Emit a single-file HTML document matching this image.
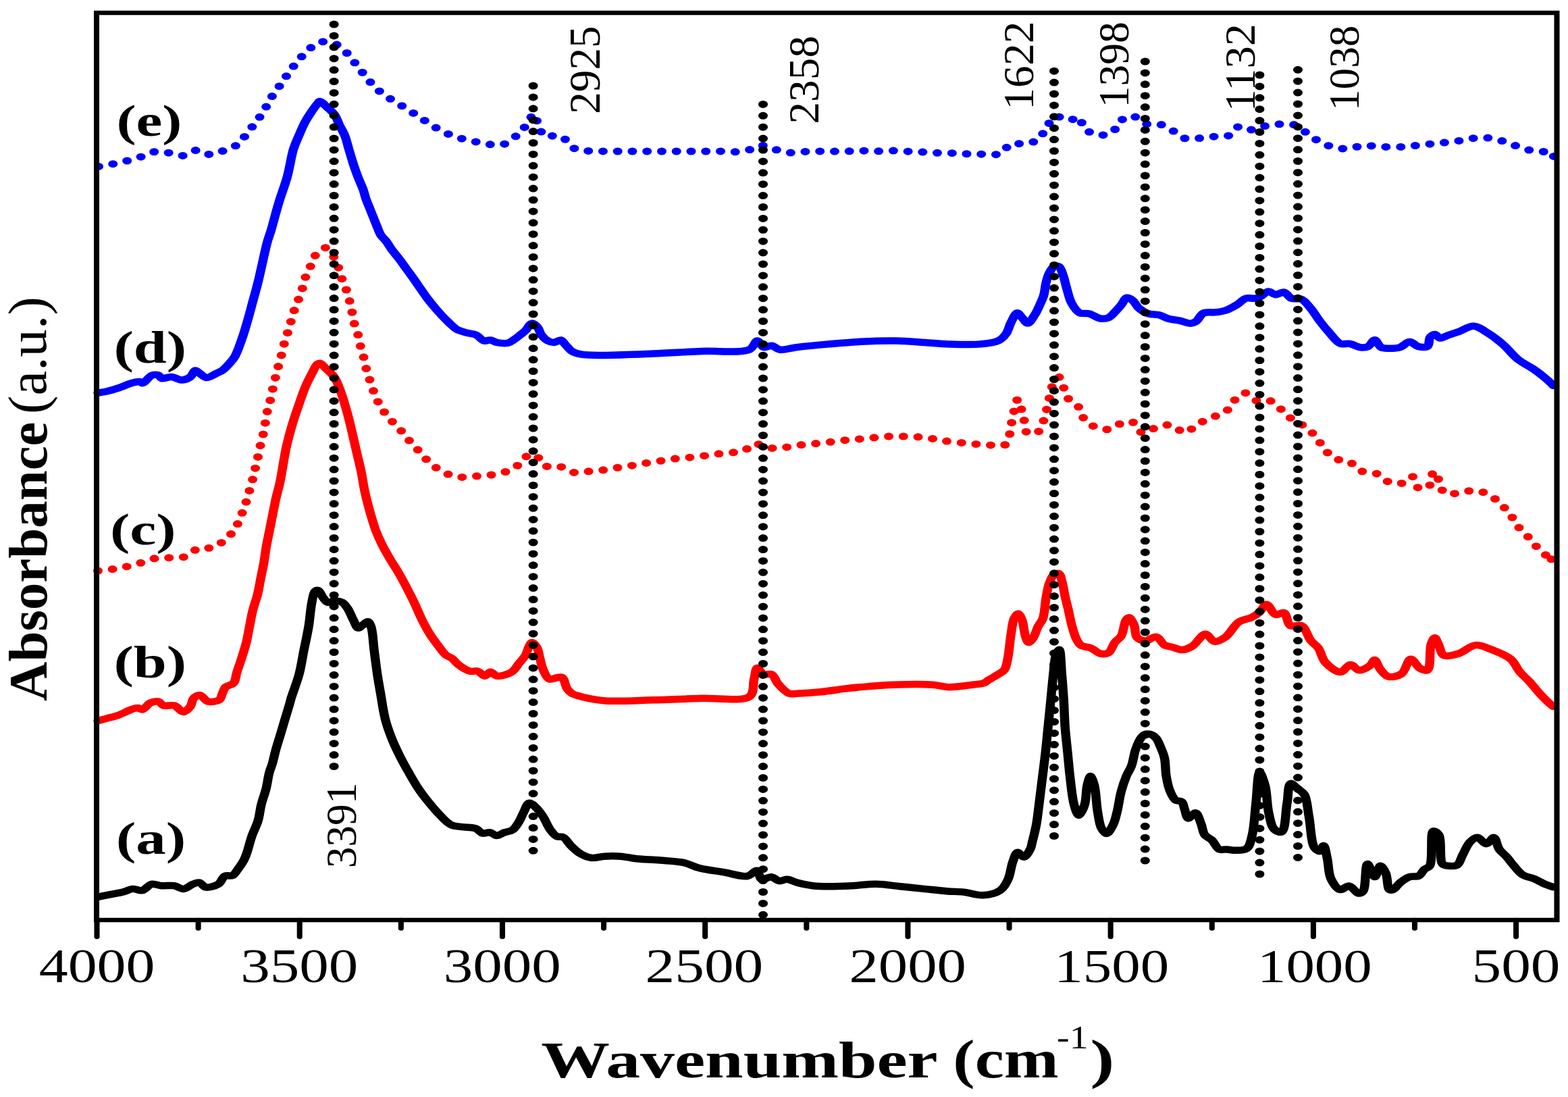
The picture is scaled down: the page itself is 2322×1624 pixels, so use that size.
<!DOCTYPE html><html><head><meta charset="utf-8"><title>FTIR spectra</title><style>html,body{margin:0;padding:0;background:#fff;}svg{display:block;}text{font-family:"Liberation Serif","Times New Roman",serif;fill:#000;}</style></head><body>
<svg width="2322" height="1624" viewBox="0 0 2322 1624">
<rect width="2322" height="1624" fill="#fff"/>
<g transform="scale(1.28,1)" fill="none" stroke-linejoin="round" stroke-linecap="round">
<path transform="translate(0,0.7)" d="M113.98,1326.90 C118.57,1325.73 123.07,1324.55 127.73,1323.40 C132.55,1322.21 137.93,1321.38 142.42,1319.90 C146.42,1318.58 149.70,1315.57 153.44,1315.20 C157.07,1314.84 161.04,1318.39 164.53,1317.50 C168.47,1316.49 171.61,1309.09 175.55,1308.10 C179.02,1307.23 182.60,1310.07 186.56,1310.50 C191.08,1310.99 196.79,1309.59 201.25,1310.50 C205.28,1311.32 208.67,1315.50 212.27,1315.20 C216.02,1314.88 219.88,1309.69 223.28,1308.10 C225.89,1306.88 228.32,1305.26 230.62,1305.80 C233.27,1306.42 234.84,1312.08 237.97,1312.80 C241.83,1313.69 248.94,1310.98 252.66,1308.10 C256.19,1305.36 256.90,1298.31 260.08,1296.30 C262.66,1294.66 266.79,1296.69 269.22,1295.20 C271.74,1293.65 272.88,1290.09 274.77,1286.90 C277.15,1282.87 280.22,1277.36 282.11,1272.80 C283.77,1268.79 284.53,1265.70 285.78,1261.10 C287.54,1254.65 289.13,1245.40 291.25,1237.60 C293.39,1229.70 296.75,1221.93 298.59,1214.00 C300.40,1206.22 300.74,1198.30 302.27,1190.50 C303.81,1182.64 306.27,1174.86 307.81,1167.00 C309.34,1159.20 310.07,1150.31 311.48,1143.50 C312.59,1138.17 314.01,1134.46 315.16,1129.40 C316.48,1123.60 317.41,1117.21 318.83,1110.60 C320.43,1103.17 322.54,1094.86 324.38,1087.00 C326.21,1079.16 328.01,1071.33 329.84,1063.50 C331.68,1055.67 334.18,1045.51 335.39,1040.00 C336.05,1037.02 336.06,1036.28 336.80,1033.10 C338.48,1025.84 343.55,1009.49 346.02,997.60 C348.46,985.83 349.71,973.93 351.56,962.10 C353.41,950.27 355.57,938.45 357.11,926.60 C358.64,914.79 359.21,900.66 360.78,891.10 C361.87,884.52 362.39,876.94 364.53,874.60 C365.55,873.48 367.04,872.93 368.20,873.40 C370.25,874.23 371.75,880.90 373.75,884.00 C375.49,886.69 377.03,890.39 379.30,891.10 C381.39,891.75 384.04,888.88 386.64,888.80 C389.55,888.71 393.38,889.32 395.94,891.10 C398.74,893.05 400.46,896.86 402.42,900.60 C404.86,905.25 406.68,912.17 408.83,917.20 C410.67,921.50 412.17,928.52 414.38,929.00 C416.02,929.36 418.08,925.88 419.92,924.30 C421.77,922.71 423.94,919.21 425.47,919.50 C427.07,919.80 428.18,923.19 429.22,926.60 C431.40,933.79 431.67,950.27 432.89,962.10 C434.11,973.93 435.25,986.43 436.56,997.60 C437.74,1007.60 438.93,1015.88 440.31,1026.00 C441.90,1037.64 443.31,1051.95 445.62,1063.50 C447.65,1073.63 450.16,1082.56 452.97,1091.70 C455.70,1100.58 458.84,1109.02 462.19,1117.60 C465.58,1126.28 469.45,1135.11 473.20,1143.50 C476.80,1151.56 480.37,1159.69 484.22,1167.00 C487.74,1173.70 491.47,1179.79 495.23,1185.80 C498.82,1191.53 502.48,1197.08 506.25,1202.30 C509.83,1207.25 514.03,1213.08 517.27,1216.40 C519.35,1218.54 520.59,1219.96 522.97,1221.10 C525.91,1222.51 529.93,1222.68 533.98,1223.40 C538.93,1224.27 546.36,1223.76 550.55,1225.80 C553.80,1227.38 555.05,1231.86 557.89,1232.80 C560.61,1233.70 564.31,1231.06 567.11,1231.70 C569.82,1232.32 571.83,1236.28 574.45,1236.40 C577.30,1236.53 580.50,1233.09 583.59,1231.70 C586.63,1230.33 590.20,1230.26 592.81,1228.10 C595.90,1225.54 598.05,1220.59 600.16,1216.40 C602.36,1212.02 603.65,1206.97 605.62,1202.30 C607.63,1197.57 609.47,1188.88 612.11,1188.20 C614.00,1187.71 616.39,1190.66 618.52,1192.90 C621.61,1196.17 624.88,1201.69 627.73,1207.00 C631.07,1213.20 633.63,1222.61 636.88,1228.10 C639.22,1232.07 641.40,1235.94 644.22,1237.60 C646.44,1238.90 649.26,1237.28 651.56,1238.70 C654.94,1240.78 657.42,1247.59 660.78,1251.70 C664.16,1255.83 667.66,1260.43 671.80,1263.40 C675.68,1266.19 680.15,1268.67 684.69,1269.30 C689.33,1269.94 694.19,1267.40 699.38,1267.00 C705.14,1266.55 711.64,1266.42 717.73,1267.00 C723.88,1267.58 729.33,1269.58 736.09,1270.50 C744.33,1271.63 754.49,1271.82 763.67,1272.80 C772.88,1273.78 783.14,1274.11 791.25,1276.40 C798.15,1278.35 802.74,1282.36 809.61,1284.60 C817.75,1287.26 828.00,1288.55 837.19,1290.50 C846.36,1292.45 857.81,1297.80 864.69,1296.30 C869.51,1295.25 873.03,1287.34 875.78,1288.10 C878.57,1288.87 878.26,1299.73 881.25,1301.10 C883.96,1302.34 888.85,1297.07 892.27,1297.50 C895.58,1297.92 898.30,1302.88 901.48,1303.40 C904.44,1303.88 907.46,1300.86 910.62,1301.10 C914.22,1301.37 917.61,1304.37 921.88,1305.80 C927.19,1307.58 934.07,1309.54 940.23,1310.50 C946.31,1311.45 951.85,1311.53 958.59,1311.60 C966.85,1311.68 976.99,1311.08 986.17,1310.50 C995.37,1309.92 1004.57,1307.92 1013.75,1308.10 C1022.95,1308.28 1032.14,1310.42 1041.33,1311.60 C1050.50,1312.78 1059.65,1314.02 1068.83,1315.20 C1078.01,1316.38 1088.13,1317.91 1096.41,1318.70 C1103.14,1319.35 1108.39,1319.02 1114.77,1319.90 C1121.83,1320.88 1129.74,1325.06 1136.88,1324.60 C1143.81,1324.15 1152.09,1321.65 1157.03,1317.50 C1161.67,1313.60 1163.88,1307.40 1166.25,1301.10 C1169.06,1293.63 1169.54,1282.46 1171.72,1275.20 C1173.37,1269.71 1174.79,1261.65 1177.27,1261.10 C1179.29,1260.65 1182.32,1268.39 1184.61,1268.10 C1187.28,1267.77 1190.31,1260.43 1191.95,1256.40 C1193.47,1252.68 1193.54,1249.48 1194.45,1244.90 C1195.79,1238.16 1197.74,1228.49 1198.98,1219.80 C1200.31,1210.53 1200.98,1201.23 1202.03,1190.90 C1203.24,1178.96 1204.53,1165.17 1205.78,1152.30 C1207.03,1139.43 1208.40,1126.58 1209.53,1113.70 C1210.66,1100.81 1211.56,1087.88 1212.58,1075.00 C1213.59,1062.15 1214.62,1049.34 1215.62,1036.50 C1216.63,1023.64 1217.53,1009.72 1218.59,997.90 C1219.50,987.84 1219.74,976.64 1221.48,970.00 C1222.51,966.07 1224.35,960.83 1225.39,961.00 C1227.41,961.33 1227.56,985.46 1228.44,997.90 C1229.34,1010.62 1230.08,1023.64 1230.70,1036.50 C1231.33,1049.34 1231.45,1062.16 1232.19,1075.00 C1232.93,1087.89 1234.15,1100.81 1235.16,1113.70 C1236.16,1126.58 1236.94,1139.45 1238.20,1152.30 C1239.47,1165.18 1240.48,1181.03 1242.73,1190.90 C1244.19,1197.29 1246.06,1206.22 1248.05,1206.30 C1250.06,1206.38 1253.16,1196.98 1254.77,1190.90 C1256.88,1182.88 1256.33,1169.69 1257.81,1161.90 C1258.84,1156.50 1260.19,1148.44 1261.56,1148.40 C1262.95,1148.36 1264.87,1156.16 1266.09,1161.90 C1268.12,1171.38 1268.26,1189.04 1269.84,1200.50 C1271.13,1209.79 1271.80,1219.84 1274.38,1225.60 C1275.97,1229.17 1278.38,1233.45 1280.39,1233.30 C1282.92,1233.11 1286.00,1224.86 1287.97,1219.80 C1290.19,1214.08 1291.11,1207.61 1292.50,1200.50 C1294.19,1191.86 1295.15,1180.66 1297.03,1171.60 C1298.73,1163.40 1300.82,1155.29 1303.05,1148.40 C1304.90,1142.68 1307.40,1138.74 1309.06,1133.00 C1311.06,1126.14 1311.68,1116.90 1313.59,1109.80 C1315.28,1103.55 1317.37,1096.60 1319.61,1092.50 C1321.03,1089.90 1322.14,1087.67 1324.14,1086.70 C1326.17,1085.71 1329.49,1085.80 1331.72,1086.70 C1334.06,1087.64 1336.07,1090.02 1337.73,1092.50 C1339.75,1095.52 1340.82,1099.74 1342.27,1104.00 C1344.01,1109.14 1346.03,1114.82 1347.19,1121.30 C1348.62,1129.26 1348.14,1139.91 1349.30,1148.40 C1350.34,1156.04 1351.48,1163.74 1353.52,1170.00 C1355.20,1175.17 1356.98,1180.97 1359.84,1183.60 C1361.92,1185.50 1365.51,1184.44 1367.27,1186.30 C1369.36,1188.53 1369.31,1193.30 1370.47,1197.10 C1371.77,1201.38 1372.39,1210.11 1374.69,1210.70 C1376.77,1211.24 1380.79,1202.09 1383.12,1202.60 C1385.97,1203.22 1387.75,1213.34 1389.53,1218.80 C1391.28,1224.17 1391.27,1230.86 1393.75,1235.10 C1395.82,1238.63 1399.55,1239.97 1402.19,1243.20 C1405.27,1246.97 1407.27,1254.81 1410.70,1256.70 C1413.20,1258.08 1416.18,1256.50 1419.14,1256.70 C1422.47,1256.92 1426.02,1258.24 1429.69,1258.10 C1433.75,1257.94 1439.32,1258.23 1442.42,1255.40 C1446.39,1251.78 1447.11,1243.34 1448.75,1235.10 C1451.17,1222.94 1451.55,1204.36 1452.97,1189.00 C1454.39,1173.66 1454.76,1143.29 1457.27,1143.00 C1458.91,1142.81 1461.95,1154.30 1463.59,1161.90 C1465.95,1172.79 1465.68,1190.84 1467.81,1202.60 C1469.48,1211.81 1470.47,1222.44 1474.14,1226.90 C1476.39,1229.64 1480.41,1232.19 1482.66,1231.00 C1487.42,1228.48 1487.11,1201.81 1488.98,1189.00 C1490.56,1178.22 1489.87,1160.36 1493.20,1159.20 C1495.29,1158.47 1499.04,1164.54 1501.72,1167.30 C1504.31,1169.97 1507.14,1171.47 1509.06,1175.50 C1512.39,1182.46 1512.60,1196.22 1514.38,1208.00 C1516.48,1221.99 1516.56,1246.40 1520.70,1254.00 C1522.47,1257.24 1525.36,1259.84 1527.11,1259.50 C1528.94,1259.14 1530.10,1251.14 1531.33,1251.30 C1533.11,1251.53 1534.26,1263.23 1535.55,1270.30 C1537.14,1279.09 1536.69,1291.94 1539.77,1300.10 C1542.23,1306.64 1546.31,1315.22 1550.39,1316.30 C1553.58,1317.14 1557.61,1310.35 1560.94,1310.90 C1564.71,1311.52 1568.48,1321.30 1571.56,1321.80 C1573.48,1322.11 1575.35,1321.16 1576.80,1319.10 C1580.62,1313.65 1579.06,1278.84 1582.11,1278.40 C1584.28,1278.09 1587.99,1297.46 1590.55,1297.40 C1592.90,1297.35 1594.63,1281.28 1596.95,1281.10 C1598.93,1280.95 1601.63,1287.47 1603.28,1292.00 C1605.59,1298.34 1604.68,1313.93 1607.50,1316.30 C1608.66,1317.28 1610.25,1317.01 1611.72,1316.30 C1614.36,1315.02 1617.02,1308.67 1620.23,1305.50 C1623.39,1302.38 1627.04,1298.95 1630.78,1297.40 C1634.14,1296.01 1638.60,1297.75 1641.41,1296.00 C1644.30,1294.20 1645.43,1289.10 1647.73,1286.50 C1649.70,1284.28 1652.40,1284.36 1654.06,1281.10 C1658.22,1272.98 1654.11,1231.31 1658.28,1229.60 C1659.97,1228.91 1663.02,1231.88 1664.69,1235.10 C1668.48,1242.40 1664.71,1272.67 1668.91,1278.40 C1670.57,1280.68 1672.80,1280.76 1675.23,1281.10 C1678.27,1281.53 1683.14,1281.85 1685.86,1279.80 C1689.21,1277.28 1689.90,1270.16 1692.19,1264.90 C1694.78,1258.94 1697.17,1250.38 1700.62,1245.90 C1703.13,1242.66 1706.19,1239.01 1709.14,1239.10 C1712.51,1239.20 1716.44,1248.77 1719.69,1248.60 C1722.77,1248.44 1725.86,1238.64 1728.20,1239.10 C1731.04,1239.65 1731.79,1251.71 1734.53,1256.70 C1736.88,1260.98 1740.24,1263.70 1742.97,1267.60 C1745.90,1271.79 1748.38,1276.67 1751.48,1281.10 C1754.71,1285.70 1757.87,1291.50 1762.03,1294.70 C1765.76,1297.57 1770.62,1297.91 1774.77,1300.10 C1779.09,1302.38 1783.44,1306.03 1787.42,1308.20 C1790.73,1310.00 1793.72,1311.07 1796.88,1312.50" stroke="#000" stroke-width="10.5"/>
<path transform="translate(0,0.7)" d="M113.28,1066.20 C116.90,1065.03 120.37,1063.99 124.14,1062.70 C128.28,1061.28 132.73,1060.01 137.11,1058.00 C141.96,1055.78 147.71,1051.52 151.88,1049.70 C154.70,1048.46 157.02,1047.19 159.30,1047.30 C161.30,1047.40 162.92,1050.11 164.84,1049.70 C167.74,1049.09 170.64,1041.63 174.06,1039.70 C176.92,1038.09 180.83,1036.99 183.36,1037.80 C185.70,1038.55 186.36,1042.69 188.91,1043.80 C192.10,1045.20 198.01,1042.31 201.80,1043.80 C205.73,1045.34 208.75,1053.25 211.95,1053.20 C214.90,1053.16 218.31,1048.28 220.31,1045.00 C222.37,1041.62 221.82,1035.92 223.98,1033.10 C225.80,1030.73 228.92,1028.11 231.41,1028.40 C234.45,1028.75 236.93,1036.62 240.62,1037.80 C244.32,1038.98 250.83,1037.77 253.59,1035.50 C256.02,1033.50 256.04,1029.17 257.27,1026.00 C258.49,1022.83 258.85,1019.04 260.94,1016.50 C263.11,1013.86 268.08,1013.61 270.23,1010.60 C272.81,1007.00 272.53,1000.81 273.91,995.30 C275.54,988.78 277.65,981.30 279.45,974.00 C281.35,966.32 283.46,958.23 285.00,950.30 C286.53,942.43 287.43,934.49 288.67,926.60 C289.91,918.72 290.88,910.85 292.42,903.00 C293.98,895.08 296.43,887.23 297.97,879.30 C299.50,871.43 300.42,863.49 301.64,855.60 C302.86,847.72 304.23,839.88 305.31,832.00 C306.39,824.12 307.04,816.18 308.12,808.30 C309.21,800.42 310.57,792.58 311.80,784.70 C313.02,776.81 314.23,768.90 315.47,761.00 C316.71,753.10 317.83,745.18 319.22,737.30 C320.61,729.41 322.24,723.14 323.83,713.70 C326.19,699.70 328.51,677.03 331.25,661.30 C333.52,648.28 335.99,636.94 338.59,625.80 C340.94,615.77 343.49,606.64 346.02,597.40 C348.44,588.53 350.78,579.33 353.44,571.40 C355.75,564.51 358.32,558.24 360.78,552.40 C362.93,547.29 365.04,540.24 367.27,538.20 C368.29,537.26 369.26,536.80 370.39,537.10 C372.44,537.65 374.96,542.28 377.42,545.30 C380.33,548.87 384.04,552.41 386.64,557.20 C389.82,563.06 391.76,570.69 394.06,578.50 C396.78,587.74 399.29,599.14 401.48,609.20 C403.59,618.83 405.22,627.93 407.03,637.60 C408.92,647.65 410.73,658.14 412.58,668.40 C414.43,678.64 416.55,689.24 418.12,699.10 C419.58,708.22 420.30,716.56 421.80,725.50 C423.35,734.81 425.24,744.26 427.34,753.90 C429.54,763.98 432.06,775.44 434.77,784.70 C437.05,792.51 439.36,798.96 442.11,806.00 C444.90,813.13 448.25,820.36 451.41,827.20 C454.42,833.74 457.49,839.33 460.62,846.20 C464.25,854.15 468.44,864.20 471.72,872.20 C474.50,878.98 476.59,884.27 479.14,891.10 C482.11,899.08 485.14,908.99 488.36,917.20 C491.31,924.71 494.32,931.93 497.58,938.50 C500.52,944.43 503.70,949.75 506.87,955.00 C509.88,959.96 512.90,965.91 516.09,969.20 C518.35,971.52 520.85,971.93 523.05,974.00 C525.66,976.46 527.35,980.45 530.39,983.40 C533.92,986.82 539.19,991.54 543.36,992.90 C546.52,993.93 549.75,991.86 552.58,992.90 C555.66,994.03 558.35,1000.04 560.94,1000.00 C563.25,999.96 565.16,994.17 567.42,994.10 C569.76,994.03 571.88,999.32 574.77,1000.00 C577.93,1000.75 582.63,998.92 585.86,997.60 C588.70,996.44 591.04,995.16 593.28,992.90 C596.10,990.06 598.17,985.04 600.62,981.10 C603.09,977.14 606.18,973.28 608.05,969.20 C609.80,965.37 610.31,960.78 611.72,957.40 C612.85,954.67 613.98,950.43 615.47,950.30 C617.05,950.16 619.57,954.33 621.02,957.40 C623.00,961.61 623.46,968.48 624.69,974.00 C625.91,979.51 626.47,985.32 628.36,990.50 C630.20,995.54 632.45,1003.23 635.78,1004.70 C638.35,1005.84 642.30,1002.65 645.00,1002.30 C647.06,1002.04 648.99,1001.18 650.55,1002.30 C653.31,1004.29 653.82,1014.67 656.09,1018.90 C657.72,1021.94 659.17,1024.10 661.64,1026.00 C664.50,1028.19 668.12,1029.24 672.73,1030.70 C679.82,1032.94 689.57,1035.65 700.47,1036.70 C715.72,1038.16 737.45,1036.10 755.94,1035.50 C774.43,1034.90 792.92,1033.90 811.41,1033.10 C829.90,1032.30 857.73,1038.43 866.87,1030.70 C873.20,1025.35 870.75,1012.38 872.42,1004.70 C873.76,998.57 873.94,988.69 876.09,988.20 C877.91,987.79 880.49,996.14 883.52,997.60 C886.17,998.88 890.18,996.05 892.73,997.60 C896.11,999.64 896.98,1007.26 900.16,1011.80 C903.64,1016.77 908.80,1024.09 913.12,1026.00 C916.04,1027.29 918.14,1026.16 921.88,1026.00 C928.53,1025.71 940.39,1024.78 949.61,1023.60 C958.88,1022.42 968.08,1020.27 977.34,1018.90 C986.57,1017.54 995.82,1016.38 1005.08,1015.40 C1014.31,1014.42 1022.39,1013.45 1032.81,1013.00 C1046.24,1012.42 1067.09,1011.89 1078.98,1013.00 C1086.58,1013.71 1090.69,1016.29 1097.50,1016.50 C1105.80,1016.75 1117.74,1014.17 1125.23,1013.00 C1130.38,1012.20 1134.93,1012.15 1138.20,1010.60 C1140.63,1009.45 1141.55,1007.65 1143.75,1005.90 C1146.78,1003.48 1151.60,1000.36 1154.84,997.60 C1157.63,995.23 1160.39,993.70 1162.19,990.50 C1164.51,986.38 1164.85,980.58 1165.94,974.00 C1167.51,964.44 1168.24,949.13 1169.61,938.50 C1170.73,929.79 1171.20,920.24 1173.28,914.80 C1174.52,911.57 1176.43,907.61 1177.89,907.70 C1179.52,907.80 1181.25,913.21 1182.50,917.20 C1184.39,923.20 1184.62,934.76 1186.25,940.80 C1187.31,944.74 1188.32,950.06 1189.92,950.30 C1191.43,950.52 1193.84,946.24 1195.47,943.20 C1197.74,938.97 1199.01,931.61 1201.02,926.60 C1202.75,922.28 1205.13,919.80 1206.56,914.80 C1208.77,907.08 1208.86,893.31 1210.23,884.00 C1211.38,876.23 1212.16,868.84 1213.98,862.70 C1215.46,857.74 1217.03,851.77 1219.53,849.70 C1221.12,848.39 1223.64,847.66 1225.08,848.50 C1227.21,849.74 1227.66,855.72 1228.75,860.40 C1230.26,866.89 1231.19,876.57 1232.50,884.00 C1233.68,890.69 1234.98,896.48 1236.17,903.00 C1237.43,909.89 1238.32,917.23 1239.84,924.30 C1241.38,931.43 1243.09,940.06 1245.39,945.60 C1247.01,949.50 1248.24,952.84 1250.94,955.00 C1253.73,957.24 1258.48,956.76 1262.03,958.60 C1265.90,960.61 1269.40,965.92 1273.12,966.90 C1276.18,967.70 1279.80,967.54 1282.34,965.70 C1285.79,963.21 1287.04,954.69 1289.77,950.30 C1292.06,946.61 1295.20,944.95 1297.19,940.80 C1300.01,934.91 1300.33,921.46 1302.73,917.20 C1303.84,915.24 1305.19,913.41 1306.41,913.60 C1308.27,913.90 1310.49,920.11 1311.95,924.30 C1313.80,929.60 1312.69,939.30 1315.62,943.20 C1317.78,946.06 1321.49,947.82 1324.84,947.90 C1328.76,948.00 1334.04,941.19 1337.73,942.10 C1341.63,943.05 1343.90,951.93 1347.42,954.40 C1350.09,956.27 1352.87,956.16 1355.94,957.20 C1359.55,958.42 1363.84,961.50 1367.73,961.30 C1371.71,961.10 1375.69,958.75 1379.53,955.80 C1384.66,951.86 1389.80,938.18 1394.45,938.00 C1398.23,937.85 1401.17,948.28 1405.16,948.90 C1409.05,949.51 1414.00,945.70 1418.05,942.10 C1423.51,937.24 1427.31,925.05 1433.05,920.20 C1437.56,916.38 1443.80,915.86 1447.97,913.30 C1451.37,911.21 1453.89,909.34 1456.56,906.50 C1459.70,903.16 1462.12,894.12 1465.16,894.10 C1468.52,894.08 1471.83,907.78 1475.86,909.20 C1478.82,910.25 1482.87,905.21 1485.47,906.50 C1489.20,908.36 1488.85,922.79 1492.97,925.60 C1496.23,927.82 1502.22,923.37 1505.78,925.60 C1510.70,928.68 1512.78,941.70 1516.48,947.60 C1519.27,952.05 1522.50,954.00 1525.08,958.50 C1528.44,964.37 1529.25,974.49 1533.67,980.50 C1537.93,986.29 1545.69,994.40 1550.78,994.20 C1555.14,994.03 1558.74,983.30 1562.50,983.20 C1565.84,983.11 1568.59,991.01 1572.19,991.40 C1576.04,991.81 1581.88,987.46 1585.00,984.60 C1587.58,982.24 1588.62,976.18 1590.39,976.30 C1592.57,976.45 1594.09,985.85 1596.80,990.00 C1599.45,994.07 1602.39,999.79 1606.41,1001.00 C1610.55,1002.25 1617.36,1000.25 1621.41,996.90 C1626.47,992.71 1628.19,975.41 1632.11,975.00 C1635.42,974.65 1639.01,986.06 1642.81,988.70 C1645.55,990.60 1649.25,992.81 1651.41,991.40 C1655.86,988.49 1653.34,961.50 1655.62,953.10 C1656.82,948.71 1658.49,943.50 1659.92,943.50 C1661.35,943.50 1662.69,949.45 1664.22,953.10 C1666.19,957.82 1666.67,967.23 1670.62,969.50 C1674.54,971.75 1682.08,968.95 1687.73,966.80 C1694.24,964.32 1700.41,955.16 1707.03,954.40 C1713.29,953.68 1719.91,958.15 1726.33,961.30 C1733.48,964.81 1742.31,969.23 1747.73,975.00 C1752.78,980.36 1754.63,988.47 1758.44,994.20 C1761.82,999.30 1765.51,1002.88 1769.14,1007.90 C1773.32,1013.67 1777.77,1021.23 1781.95,1027.00 C1785.59,1032.02 1789.83,1037.48 1792.66,1040.70 C1794.32,1042.60 1795.47,1043.57 1796.88,1045.00" stroke="#f00" stroke-width="10.5"/>
<path d="M113.28,845.00 C118.88,844.20 124.50,843.66 130.08,842.60 C135.70,841.53 141.37,840.18 146.88,838.60 C152.33,837.04 157.59,835.18 162.97,833.20 C168.50,831.16 173.92,827.76 179.61,826.50 C185.15,825.27 190.95,825.98 196.64,825.60 C202.36,825.22 208.44,826.30 213.83,824.20 C219.79,821.87 224.60,813.32 230.47,811.20 C235.59,809.35 241.69,812.62 246.56,810.70 C251.82,808.63 256.43,802.94 260.62,798.40 C264.81,793.87 268.88,788.83 271.72,783.50 C274.48,778.31 275.68,772.48 277.58,766.90 C279.49,761.28 281.57,755.59 283.12,749.90 C284.65,744.32 285.56,738.72 286.88,733.10 C288.21,727.42 289.87,721.71 291.09,716.00 C292.31,710.34 293.15,704.61 294.22,699.00 C295.26,693.48 296.45,688.19 297.42,682.60 C298.43,676.80 299.12,670.61 300.16,664.80 C301.16,659.18 302.50,653.82 303.52,648.30 C304.53,642.78 305.48,637.28 306.25,631.70 C307.02,626.08 307.21,620.37 308.12,614.70 C309.05,608.94 310.71,603.12 311.80,597.40 C312.86,591.82 313.61,586.42 314.61,580.80 C315.64,574.99 316.81,568.90 317.89,563.10 C318.94,557.48 319.87,552.01 321.02,546.50 C322.16,540.98 323.63,535.56 324.77,530.00 C325.92,524.36 326.71,518.53 327.89,512.90 C329.06,507.34 330.48,501.93 331.80,496.40 C333.13,490.80 334.57,485.15 335.86,479.50 C337.15,473.85 338.08,468.10 339.53,462.50 C340.97,456.93 342.90,451.56 344.53,446.00 C346.18,440.36 347.95,434.64 349.38,428.90 C350.79,423.17 351.45,417.25 353.05,411.60 C354.63,405.98 356.99,400.62 358.91,395.10 C360.82,389.58 361.55,383.27 364.53,378.50 C367.45,373.83 372.82,366.35 376.48,366.70 C380.35,367.07 384.40,376.67 387.03,382.10 C389.57,387.33 390.64,393.03 392.19,398.60 C393.75,404.22 394.74,410.02 396.33,415.70 C397.94,421.45 400.31,427.18 401.80,432.90 C403.23,438.44 404.13,443.96 405.16,449.50 C406.18,455.03 407.05,460.52 407.97,466.10 C408.90,471.78 409.47,477.65 410.70,483.30 C411.93,488.92 414.14,494.30 415.31,499.90 C416.48,505.50 416.65,511.29 417.73,516.90 C418.81,522.49 420.66,527.89 421.80,533.50 C422.95,539.18 423.36,545.14 424.61,550.80 C425.84,556.40 427.71,561.69 429.22,567.30 C430.78,573.11 431.96,579.32 433.83,585.10 C435.67,590.79 437.75,596.26 440.31,601.70 C442.96,607.30 445.98,612.77 449.53,618.20 C453.31,623.98 458.44,629.54 462.50,635.30 C466.45,640.91 469.76,646.71 473.59,652.30 C477.44,657.91 481.55,663.38 485.55,668.90 C489.54,674.41 492.99,680.39 497.58,685.40 C502.22,690.46 507.72,695.57 513.28,699.10 C518.40,702.35 523.82,705.20 529.45,706.20 C535.07,707.20 541.34,705.50 547.03,705.10 C552.41,704.73 557.45,704.67 562.73,703.90 C568.23,703.10 573.99,702.07 579.38,700.30 C584.80,698.51 590.59,696.84 595.16,693.20 C600.15,689.22 603.01,679.97 607.66,676.70 C611.20,674.20 615.77,671.88 619.14,673.10 C623.46,674.66 625.03,687.07 629.84,689.70 C634.19,692.07 640.76,688.30 645.94,689.70 C651.51,691.21 656.40,697.77 662.03,699.10 C667.39,700.36 673.29,698.47 678.83,698.00 C684.25,697.54 689.53,697.15 694.92,696.30 C700.44,695.43 705.98,693.90 711.56,692.80 C717.20,691.69 723.04,690.84 728.59,689.70 C733.95,688.60 738.98,687.21 744.30,686.10 C749.75,684.97 755.48,684.08 760.94,683.00 C766.25,681.95 771.34,680.56 776.64,679.70 C781.99,678.83 787.41,678.49 792.89,677.80 C798.50,677.09 804.29,676.37 809.92,675.50 C815.51,674.64 821.01,673.47 826.56,672.60 C832.10,671.73 837.66,671.08 843.20,670.30 C848.75,669.52 854.86,670.12 859.84,667.90 C864.94,665.62 868.70,657.23 873.36,656.60 C877.54,656.04 881.52,661.37 886.25,662.50 C891.46,663.75 897.78,663.69 903.44,663.20 C909.08,662.72 914.54,660.58 920.16,659.60 C925.79,658.61 931.51,658.00 937.19,657.30 C942.86,656.60 948.55,656.20 954.22,655.40 C959.91,654.60 965.63,653.31 971.25,652.50 C976.72,651.72 982.08,651.18 987.50,650.60 C992.91,650.02 998.25,649.68 1003.75,649.00 C1009.46,648.29 1015.40,646.91 1021.17,646.40 C1026.81,645.90 1032.35,645.90 1037.97,645.90 C1043.63,645.90 1049.33,646.08 1055.00,646.40 C1060.66,646.72 1066.39,646.89 1071.95,647.80 C1077.48,648.70 1082.32,650.61 1088.28,651.80 C1095.36,653.21 1104.57,654.44 1111.72,655.40 C1117.73,656.20 1122.76,656.72 1128.36,657.30 C1134.04,657.89 1139.86,658.64 1145.55,658.90 C1151.13,659.16 1158.40,661.56 1162.19,658.90 C1166.13,656.12 1166.89,647.67 1168.28,641.90 C1169.65,636.23 1169.70,630.30 1170.55,624.60 C1171.37,619.00 1172.13,613.54 1173.28,608.00 C1174.46,602.34 1176.10,591.01 1177.58,591.00 C1179.06,590.99 1180.89,602.34 1182.19,608.00 C1183.46,613.54 1184.19,619.02 1185.31,624.60 C1186.46,630.31 1185.78,639.89 1188.98,641.90 C1191.73,643.62 1198.52,641.55 1201.56,638.80 C1205.11,635.60 1205.90,627.84 1207.50,622.20 C1209.10,616.57 1210.04,610.73 1211.17,605.00 C1212.30,599.30 1213.22,593.59 1214.30,587.90 C1215.38,582.22 1215.63,575.98 1217.66,570.90 C1219.53,566.19 1223.45,558.02 1225.62,558.30 C1228.01,558.61 1229.10,569.75 1231.02,575.40 C1232.93,581.05 1234.05,587.40 1237.11,592.20 C1240.04,596.80 1245.90,599.21 1248.75,603.80 C1251.69,608.53 1251.13,615.52 1254.30,620.30 C1257.60,625.29 1263.23,630.43 1268.52,632.90 C1273.41,635.18 1279.50,636.47 1284.61,635.30 C1290.14,634.03 1295.36,625.95 1300.31,624.60 C1304.04,623.58 1307.80,623.48 1311.02,625.30 C1315.34,627.74 1317.52,640.10 1322.11,641.20 C1326.50,642.25 1332.25,634.80 1337.73,632.80 C1343.19,630.81 1349.52,628.08 1354.92,629.20 C1360.63,630.38 1365.82,640.76 1370.94,640.50 C1376.00,640.25 1380.33,631.62 1385.47,627.90 C1390.54,624.23 1396.13,621.37 1401.56,618.30 C1406.99,615.24 1413.63,613.70 1418.05,609.50 C1422.60,605.18 1424.40,597.33 1428.28,592.50 C1431.76,588.16 1435.70,581.64 1439.84,581.50 C1444.37,581.34 1449.23,591.82 1454.45,593.60 C1459.03,595.16 1464.62,591.42 1468.98,593.10 C1473.79,594.95 1477.54,601.03 1481.64,605.40 C1485.91,609.94 1489.44,615.57 1494.06,619.90 C1498.70,624.24 1504.72,626.95 1509.45,631.40 C1514.39,636.03 1519.23,641.74 1522.97,647.30 C1526.49,652.53 1527.96,658.49 1531.48,663.70 C1535.22,669.22 1539.85,676.43 1545.00,679.40 C1549.31,681.89 1554.98,679.79 1559.30,682.10 C1564.16,684.71 1568.92,692.66 1572.19,695.30 C1573.90,696.68 1574.49,697.20 1576.48,698.00 C1580.10,699.44 1587.84,698.83 1592.89,701.30 C1598.38,703.98 1602.47,712.03 1607.89,714.20 C1612.65,716.11 1618.76,716.54 1623.12,715.00 C1627.36,713.50 1630.93,704.76 1633.83,705.40 C1637.11,706.13 1637.29,720.13 1641.09,722.40 C1644.14,724.21 1650.39,723.64 1652.89,721.30 C1655.93,718.45 1653.51,707.94 1655.62,704.00 C1657.07,701.31 1660.11,698.00 1661.64,698.50 C1663.93,699.24 1663.42,710.89 1665.31,716.40 C1667.08,721.53 1668.50,728.39 1672.34,730.60 C1676.27,732.86 1683.31,730.25 1688.83,729.50 C1694.50,728.73 1700.35,725.54 1705.94,726.00 C1711.55,726.46 1717.45,729.07 1722.42,732.30 C1727.72,735.75 1732.30,741.34 1736.56,746.50 C1740.88,751.73 1744.63,757.69 1748.12,763.50 C1751.55,769.20 1753.75,775.38 1757.34,781.00 C1761.06,786.80 1766.09,792.04 1770.16,797.70 C1774.16,803.28 1777.34,809.59 1781.56,814.70 C1785.58,819.57 1790.36,823.43 1794.77,827.80 M1794.77,827.80 l0.01,0" stroke="#f00" stroke-width="11" stroke-dasharray="0 17"/>
<path transform="translate(0,0.7)" d="M113.28,580.80 C116.90,580.03 120.40,579.58 124.14,578.50 C128.31,577.29 132.69,575.57 137.11,573.70 C141.92,571.66 147.45,568.19 151.88,566.60 C155.26,565.38 158.84,563.93 161.17,564.30 C162.74,564.55 163.39,566.79 164.84,566.60 C167.66,566.24 172.27,556.39 175.94,554.80 C178.42,553.73 181.47,553.88 183.36,554.80 C185.05,555.63 185.19,558.83 187.03,559.50 C189.56,560.43 194.33,556.92 198.12,557.20 C202.30,557.50 207.11,562.13 211.02,561.90 C214.41,561.70 217.85,559.51 220.31,557.20 C222.84,554.82 223.78,548.06 225.86,547.70 C227.55,547.41 229.42,550.76 231.41,552.40 C233.67,554.27 235.95,558.04 238.75,558.30 C241.98,558.60 246.55,554.32 249.84,552.40 C252.60,550.80 254.84,549.89 257.27,547.70 C260.43,544.84 263.90,539.70 266.48,535.90 C268.70,532.64 270.20,530.61 272.03,526.40 C275.17,519.19 278.75,505.22 281.33,495.60 C283.57,487.25 285.07,480.07 286.88,472.00 C288.77,463.55 290.57,454.68 292.42,446.00 C294.27,437.31 296.19,428.97 297.97,419.90 C299.90,410.10 301.67,399.44 303.52,389.20 C305.37,378.94 307.14,367.32 309.06,358.40 C310.56,351.45 311.96,347.31 313.67,340.00 C316.17,329.33 319.16,313.69 322.27,300.50 C325.41,287.16 329.55,273.81 332.42,260.40 C335.27,247.11 336.79,231.39 339.45,220.40 C341.37,212.49 343.48,206.97 345.70,200.30 C347.93,193.60 350.20,186.53 352.81,180.30 C355.21,174.60 358.00,169.22 360.62,164.30 C362.95,159.94 365.87,154.84 367.66,152.20 C368.59,150.82 368.93,149.25 370.00,149.20 C371.93,149.10 375.81,154.97 378.59,158.20 C381.55,161.64 384.88,165.12 387.19,169.30 C389.65,173.76 390.73,179.23 392.66,184.30 C394.66,189.56 397.20,194.59 398.98,200.30 C400.94,206.55 402.11,213.71 403.67,220.40 C405.23,227.08 406.67,233.75 408.36,240.40 C410.06,247.08 411.86,253.79 413.83,260.40 C415.79,266.99 418.49,274.02 420.16,280.00 C421.53,284.94 422.12,289.16 423.36,293.70 C424.61,298.29 426.22,302.83 427.66,307.40 C429.09,311.97 430.52,316.53 431.95,321.10 C433.39,325.67 434.79,330.37 436.25,334.80 C437.64,339.02 438.61,343.37 440.47,347.10 C442.23,350.63 444.89,353.24 446.95,356.70 C449.21,360.49 450.99,364.84 453.36,369.00 C455.92,373.49 459.07,377.99 461.88,382.70 C464.78,387.58 467.60,392.77 470.47,397.80 C473.33,402.83 476.33,407.98 479.06,412.90 C481.65,417.56 484.00,422.04 486.48,426.60 C488.97,431.17 491.33,435.77 493.98,440.30 C496.69,444.91 499.67,449.59 502.58,454.00 C505.38,458.24 508.19,462.35 511.09,466.30 C513.90,470.11 516.76,473.82 519.69,477.30 C522.49,480.64 524.98,484.40 528.28,486.80 C531.44,489.10 535.29,490.23 538.98,491.60 C542.76,493.00 547.23,493.09 550.70,495.10 C554.26,497.15 556.83,502.92 560.00,503.90 C562.43,504.65 565.01,502.34 567.42,502.70 C569.94,503.07 571.88,505.55 574.77,506.30 C578.40,507.25 584.16,508.06 587.73,507.00 C590.74,506.11 592.76,503.62 595.16,501.60 C597.69,499.47 600.25,496.80 602.50,494.50 C604.51,492.44 606.15,490.86 608.05,488.50 C610.44,485.53 612.91,478.18 615.47,477.90 C617.57,477.67 620.19,481.24 621.95,483.80 C624.07,486.88 624.47,492.17 626.56,495.60 C628.52,498.81 631.19,502.12 633.91,503.90 C636.19,505.39 638.89,506.47 641.33,506.30 C643.84,506.13 646.62,502.21 648.75,502.70 C650.98,503.22 652.32,507.26 654.30,509.80 C656.58,512.73 658.57,516.93 661.64,519.30 C664.72,521.67 668.09,522.95 672.73,524.00 C679.79,525.59 689.64,525.19 700.47,525.20 C715.79,525.21 737.45,523.88 755.94,522.90 C774.43,521.92 792.91,520.30 811.41,519.30 C829.89,518.30 856.69,522.45 866.87,516.90 C872.33,513.93 873.14,503.97 876.09,503.90 C878.66,503.84 880.52,512.39 883.52,513.40 C886.18,514.30 889.75,510.53 892.73,511.00 C895.94,511.50 898.17,516.14 902.03,516.90 C907.25,517.93 914.22,514.56 921.88,513.40 C932.28,511.82 946.49,510.08 958.83,508.70 C971.16,507.32 983.22,505.90 995.86,505.10 C1009.07,504.26 1023.62,503.63 1036.48,503.90 C1048.14,504.15 1059.18,505.46 1069.77,506.30 C1079.43,507.07 1087.58,508.27 1097.50,508.70 C1108.93,509.19 1124.01,509.91 1134.45,508.70 C1142.31,507.79 1149.72,506.99 1154.84,503.90 C1159.04,501.37 1161.66,497.51 1164.06,493.30 C1166.75,488.61 1167.40,481.94 1169.61,476.70 C1171.72,471.70 1174.50,462.73 1176.95,462.50 C1178.80,462.33 1180.58,467.14 1182.50,469.60 C1184.58,472.26 1186.76,478.00 1188.98,477.90 C1191.68,477.78 1195.02,469.45 1197.34,464.90 C1199.65,460.38 1201.19,455.46 1202.89,450.70 C1204.57,445.99 1206.31,441.63 1207.50,436.50 C1208.85,430.70 1209.05,423.42 1210.23,417.60 C1211.27,412.50 1212.26,407.56 1213.98,403.40 C1215.48,399.80 1217.24,395.21 1219.53,393.90 C1221.16,392.97 1223.56,392.86 1225.08,393.90 C1227.37,395.47 1228.31,401.13 1229.69,405.70 C1231.50,411.70 1232.61,419.92 1234.30,427.00 C1235.99,434.12 1237.11,442.11 1239.84,448.30 C1242.24,453.73 1245.17,460.11 1249.06,462.50 C1252.22,464.44 1256.43,462.53 1260.16,463.70 C1264.44,465.05 1269.05,470.03 1273.12,470.80 C1276.35,471.41 1279.66,471.02 1282.34,469.60 C1285.28,468.05 1287.38,464.31 1289.77,461.30 C1292.34,458.05 1294.85,454.28 1297.19,450.70 C1299.48,447.18 1301.16,440.66 1303.67,440.00 C1305.60,439.49 1308.09,441.70 1310.08,443.60 C1312.82,446.21 1314.41,452.05 1317.50,455.40 C1320.58,458.74 1324.57,462.01 1328.59,463.70 C1332.41,465.30 1337.07,464.34 1340.94,465.60 C1344.74,466.83 1347.81,469.73 1351.64,471.10 C1355.65,472.54 1360.27,472.76 1364.53,473.90 C1368.84,475.05 1373.83,478.18 1377.34,478.00 C1379.87,477.87 1381.69,476.89 1383.75,475.20 C1386.77,472.72 1388.42,465.18 1392.34,462.90 C1396.28,460.61 1402.79,462.28 1407.34,461.50 C1411.24,460.83 1414.45,460.36 1418.05,458.80 C1422.27,456.97 1426.89,453.62 1430.86,450.60 C1434.72,447.67 1437.69,442.48 1441.56,441.00 C1444.90,439.72 1449.21,441.64 1452.27,441.00 C1454.74,440.48 1456.49,439.57 1458.67,438.20 C1461.46,436.45 1464.29,431.11 1467.27,430.80 C1470.03,430.51 1472.86,435.29 1475.86,435.50 C1478.93,435.72 1482.56,431.22 1485.47,431.90 C1488.69,432.65 1490.61,439.28 1494.06,441.00 C1497.41,442.67 1502.31,440.36 1505.78,442.30 C1509.99,444.65 1513.10,450.90 1516.48,456.00 C1520.29,461.73 1523.51,469.10 1527.19,475.20 C1530.66,480.97 1534.03,486.29 1537.89,491.70 C1541.87,497.27 1546.09,505.82 1550.78,508.10 C1554.14,509.73 1557.84,507.35 1561.48,508.10 C1565.65,508.96 1570.39,513.12 1574.30,513.60 C1577.39,513.98 1580.37,513.69 1582.89,512.20 C1585.87,510.43 1587.94,502.52 1590.39,502.60 C1592.95,502.68 1594.82,511.64 1597.89,513.60 C1600.36,515.18 1603.27,514.91 1606.41,515.00 C1610.25,515.11 1615.28,515.11 1619.30,513.60 C1623.51,512.02 1627.30,505.40 1631.02,505.40 C1634.40,505.40 1637.21,511.10 1640.70,512.20 C1644.03,513.25 1649.07,514.06 1651.41,512.20 C1654.09,510.07 1652.66,501.54 1654.61,498.50 C1655.96,496.40 1658.09,494.35 1659.92,494.40 C1661.98,494.45 1663.92,499.58 1666.33,499.90 C1668.89,500.24 1671.76,497.23 1674.92,495.80 C1678.75,494.06 1683.17,492.37 1687.73,490.30 C1693.07,487.89 1699.29,481.76 1704.92,482.10 C1710.73,482.46 1716.54,488.67 1722.03,493.00 C1727.98,497.69 1733.64,503.40 1739.14,509.50 C1745.08,516.10 1750.16,525.25 1756.25,531.40 C1761.67,536.87 1768.22,540.54 1773.44,545.10 C1778.12,549.20 1782.48,553.48 1786.25,557.40 C1789.45,560.73 1792.92,564.67 1794.77,567.00 C1795.75,568.25 1796.17,569.00 1796.88,570.00" stroke="#00f" stroke-width="10.5"/>
<path d="M114.06,246.40 C119.43,245.20 124.75,244.17 130.16,242.80 C135.72,241.39 141.42,239.80 146.95,238.00 C152.49,236.20 157.93,234.24 163.36,232.00 C168.89,229.72 174.23,225.28 179.84,224.40 C185.20,223.56 190.84,225.40 196.25,226.40 C201.67,227.40 207.06,231.00 212.34,230.40 C217.93,229.76 223.45,222.11 228.83,222.00 C233.88,221.89 238.58,228.66 243.67,228.80 C248.94,228.94 254.67,224.94 259.92,222.40 C265.22,219.84 271.02,217.62 275.31,213.50 C279.91,209.09 282.65,201.99 286.25,196.30 C289.78,190.72 293.43,185.30 296.72,179.70 C299.96,174.17 303.14,168.56 305.86,162.90 C308.51,157.39 310.22,151.72 312.89,146.20 C315.66,140.48 319.17,134.84 322.27,129.20 C325.32,123.64 328.20,118.17 331.33,112.60 C334.55,106.87 337.72,100.95 341.33,95.30 C344.98,89.58 348.59,83.83 353.12,78.50 C357.92,72.87 363.49,64.63 369.53,62.50 C374.73,60.67 381.26,61.71 386.41,64.10 C392.27,66.82 397.66,73.93 402.11,79.50 C406.37,84.84 409.18,91.00 412.73,96.70 C416.26,102.37 419.68,107.99 423.36,113.60 C427.10,119.30 430.54,125.34 435.00,130.60 C439.55,135.96 445.10,140.75 450.47,145.40 C455.80,150.02 461.64,154.04 467.11,158.40 C472.52,162.71 477.86,167.03 483.12,171.40 C488.33,175.73 493.23,180.34 498.52,184.50 C503.78,188.64 509.17,192.98 514.77,196.30 C520.10,199.46 525.62,201.93 531.25,204.10 C536.84,206.26 542.71,207.71 548.44,209.30 C554.09,210.87 559.67,212.89 565.39,213.60 C571.08,214.31 577.44,215.52 582.66,213.60 C588.19,211.56 594.17,203.93 597.42,201.00 C599.08,199.50 599.72,199.21 601.09,197.50 C603.67,194.28 607.53,187.10 610.39,182.10 C613.04,177.48 615.70,168.39 617.73,168.60 C619.93,168.82 620.75,180.04 622.89,185.60 C625.06,191.25 626.64,199.98 630.70,202.20 C634.30,204.16 640.75,199.29 644.92,200.30 C648.80,201.24 651.85,204.38 655.08,207.40 C658.86,210.94 661.24,218.03 665.78,220.70 C670.22,223.32 676.40,222.95 681.88,223.50 C687.49,224.07 693.33,223.92 699.06,224.00 C704.79,224.08 710.57,224.00 716.25,224.00 C721.84,224.00 727.31,224.00 732.89,224.00 C738.53,224.00 744.20,224.00 749.92,224.00 C755.73,224.00 761.72,224.00 767.50,224.00 C773.12,224.00 778.55,224.00 784.14,224.00 C789.82,224.00 795.61,224.00 801.33,224.00 C807.02,224.00 812.72,224.00 818.36,224.00 C823.94,224.00 829.46,223.88 835.00,224.00 C840.53,224.12 846.03,225.16 851.56,224.70 C857.23,224.23 863.56,222.87 868.59,221.10 C872.95,219.56 876.15,215.46 880.23,215.20 C884.52,214.93 889.02,218.32 893.75,220.00 C898.99,221.86 904.67,225.13 910.31,225.90 C915.87,226.66 921.70,225.02 927.34,224.70 C932.92,224.39 938.40,224.12 943.98,224.00 C949.63,223.88 955.33,224.00 961.02,224.00 C966.73,224.00 972.48,224.17 978.20,224.00 C983.93,223.83 989.71,222.99 995.39,223.00 C1000.98,223.01 1006.43,223.99 1012.03,224.00 C1017.75,224.01 1023.61,223.00 1029.38,223.00 C1035.12,223.00 1040.87,223.72 1046.56,224.00 C1052.17,224.28 1057.67,224.32 1063.28,224.70 C1068.98,225.08 1074.75,226.03 1080.47,226.30 C1086.13,226.56 1092.50,226.01 1097.42,226.30 C1101.25,226.53 1103.77,227.24 1107.58,227.50 C1112.44,227.83 1118.64,227.68 1124.22,227.80 C1129.86,227.92 1135.64,228.25 1141.25,228.20 C1146.73,228.15 1152.90,229.79 1157.50,227.50 C1162.46,225.03 1164.57,215.24 1169.53,212.90 C1174.13,210.73 1180.52,213.94 1185.78,212.90 C1191.13,211.84 1197.31,210.19 1201.33,206.50 C1205.65,202.53 1206.93,194.82 1210.23,189.20 C1213.58,183.51 1216.53,174.22 1221.33,172.60 C1225.76,171.10 1232.64,178.32 1237.42,178.10 C1241.39,177.92 1245.37,172.16 1248.12,173.30 C1251.56,174.73 1250.91,185.98 1254.61,190.40 C1258.31,194.82 1264.86,198.91 1270.31,199.80 C1275.48,200.65 1282.18,199.41 1286.41,196.30 C1291.06,192.88 1292.03,183.23 1296.25,179.00 C1299.95,175.29 1304.97,171.14 1309.53,171.40 C1314.77,171.69 1320.04,181.29 1325.78,183.30 C1330.94,185.11 1337.06,182.47 1342.03,184.00 C1346.92,185.51 1350.94,189.09 1355.39,192.30 C1360.31,195.85 1364.66,202.61 1370.16,204.60 C1375.33,206.47 1381.56,205.00 1387.19,204.60 C1392.78,204.20 1398.23,202.80 1403.83,202.20 C1409.50,201.59 1416.04,203.37 1421.02,201.00 C1426.30,198.49 1429.26,188.02 1434.30,186.80 C1438.91,185.68 1444.60,192.41 1449.69,192.30 C1454.78,192.19 1459.58,187.53 1464.84,186.10 C1470.18,184.65 1475.96,183.89 1481.48,183.70 C1486.92,183.51 1492.72,182.83 1497.73,184.90 C1503.28,187.19 1507.87,193.60 1512.89,197.90 C1517.84,202.14 1522.37,207.07 1527.66,210.50 C1532.76,213.81 1538.35,216.72 1543.98,218.30 C1549.45,219.83 1555.40,220.52 1560.94,220.00 C1566.46,219.48 1571.69,215.71 1577.19,215.20 C1582.65,214.69 1587.79,216.50 1593.83,216.90 C1601.02,217.37 1610.31,217.86 1617.50,217.60 C1623.54,217.38 1628.57,216.56 1634.14,215.90 C1639.79,215.23 1645.61,214.33 1651.17,213.60 C1656.51,212.90 1661.52,212.30 1666.88,211.60 C1672.49,210.87 1678.43,210.36 1684.14,209.30 C1689.88,208.23 1695.51,206.13 1701.25,205.20 C1706.94,204.28 1712.75,203.28 1718.44,203.70 C1724.18,204.13 1730.02,205.93 1735.55,207.80 C1741.06,209.67 1746.11,212.57 1751.56,214.90 C1757.19,217.31 1763.05,220.43 1768.83,222.00 C1774.25,223.47 1780.23,222.61 1785.16,224.30 C1789.75,225.87 1793.44,229.03 1797.58,231.40 M1797.58,231.40 l0.01,0" stroke="#00f" stroke-width="11" stroke-dasharray="0 17"/>
<path d="M386.41,36 L386.41,1134.5" stroke="#000" stroke-width="11" stroke-dasharray="0 16.9"/>
<path d="M616.88,127 L616.88,1260.5" stroke="#000" stroke-width="11" stroke-dasharray="0 16.9"/>
<path d="M882.81,154.4 L882.81,1354.5" stroke="#000" stroke-width="11" stroke-dasharray="0 16.9"/>
<path d="M1219.53,105.2 L1219.53,1238.1" stroke="#000" stroke-width="11" stroke-dasharray="0 16.9"/>
<path d="M1324.84,91 L1324.84,1274.5" stroke="#000" stroke-width="11" stroke-dasharray="0 16.9"/>
<path d="M1457.34,111 L1457.34,1295.2" stroke="#000" stroke-width="11" stroke-dasharray="0 16.9"/>
<path d="M1501.56,103.3 L1501.56,1285.7" stroke="#000" stroke-width="11" stroke-dasharray="0 16.9"/>
<path d="M111.72,19.0 L1801.17,19.0 L1801.17,1362.0 L111.72,1362.0 Z" stroke="#000" stroke-width="6.3" stroke-linecap="butt" stroke-linejoin="miter"/>
<path d="M112.11,1362.0 L112.11,1387 M229.39,1362.0 L229.39,1374.5 M346.66,1362.0 L346.66,1387 M463.94,1362.0 L463.94,1374.5 M581.22,1362.0 L581.22,1387 M698.50,1362.0 L698.50,1374.5 M815.77,1362.0 L815.77,1387 M933.05,1362.0 L933.05,1374.5 M1050.33,1362.0 L1050.33,1387 M1167.61,1362.0 L1167.61,1374.5 M1284.88,1362.0 L1284.88,1387 M1402.16,1362.0 L1402.16,1374.5 M1519.44,1362.0 L1519.44,1387 M1636.71,1362.0 L1636.71,1374.5 M1753.99,1362.0 L1753.99,1387" stroke="#000" stroke-width="6.3"/>
</g>
<text transform="translate(57.78,1454.08) scale(1.2106,1)" font-size="70.90" font-weight="normal">4000</text>
<text transform="translate(356.15,1454.08) scale(1.2274,1)" font-size="70.90" font-weight="normal">3500</text>
<text transform="translate(656.65,1454.08) scale(1.2281,1)" font-size="70.90" font-weight="normal">3000</text>
<text transform="translate(955.50,1454.08) scale(1.2327,1)" font-size="70.90" font-weight="normal">2500</text>
<text transform="translate(1257.54,1454.08) scale(1.2217,1)" font-size="70.90" font-weight="normal">2000</text>
<text transform="translate(1561.35,1454.10) scale(1.2165,1)" font-size="69.85" font-weight="normal">1500</text>
<text transform="translate(1861.96,1454.10) scale(1.2157,1)" font-size="69.85" font-weight="normal">1000</text>
<text transform="translate(2179.56,1454.08) scale(1.2312,1)" font-size="70.90" font-weight="normal">500</text>
<text transform="translate(527.47,1285.37) rotate(-90) scale(1,0.9975)" font-size="63.44" font-weight="normal">3391</text>
<text transform="translate(888.25,168.81) rotate(-90) scale(1,0.9883)" font-size="65.31" font-weight="normal">2925</text>
<text transform="translate(1211.73,183.61) rotate(-90) scale(1,0.9704)" font-size="65.36" font-weight="normal">2358</text>
<text transform="translate(1530.05,162.71) rotate(-90) scale(1,0.9547)" font-size="65.62" font-weight="normal">1622</text>
<text transform="translate(1670.95,159.43) rotate(-90) scale(1,0.9845)" font-size="63.64" font-weight="normal">1398</text>
<text transform="translate(1857.76,165.59) rotate(-90) scale(1,0.9556)" font-size="66.54" font-weight="normal">1132</text>
<text transform="translate(2011.65,164.09) rotate(-90) scale(1,0.9903)" font-size="63.26" font-weight="normal">1038</text>
<text transform="translate(172.50,201.23) scale(1.3329,1)" font-size="65.56" font-weight="bold">(e)</text>
<text transform="translate(168.47,537.13) scale(1.3158,1)" font-size="67.00" font-weight="bold">(d)</text>
<text transform="translate(162.98,805.72) scale(1.3216,1)" font-size="66.56" font-weight="bold">(c)</text>
<text transform="translate(168.47,1002.98) scale(1.3202,1)" font-size="66.78" font-weight="bold">(b)</text>
<text transform="translate(171.75,1263.91) scale(1.3231,1)" font-size="67.11" font-weight="bold">(a)</text>
<text transform="translate(801.18,1594.76) scale(1.3177,1)" font-size="77.18" font-weight="bold">Wavenumber</text>
<text transform="translate(1411.31,1595.09) scale(1.1995,1)" font-size="81.00" font-weight="bold">(cm</text>
<text transform="translate(1565.06,1551.70) scale(1.1491,1)" font-size="48.64" font-weight="normal">-1</text>
<text transform="translate(1614.25,1595.09) scale(1.3390,1)" font-size="81.00" font-weight="bold">)</text>
<text transform="translate(68.79,1037.91) rotate(-90) scale(1,0.9964)" font-size="80.87" font-weight="bold">Absorbance</text>
<text transform="translate(67.99,613.00) rotate(-90) scale(1,0.9828)" font-size="82.41" font-weight="normal">(a.u.)</text>
</svg></body></html>
